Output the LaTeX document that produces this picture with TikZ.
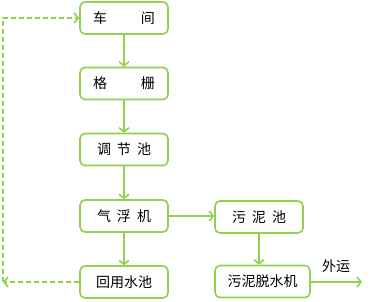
\documentclass[tikz,border=0pt]{standalone}
\usepackage{fontspec}
\newfontfamily\cjk{Noto Sans CJK SC}
\usetikzlibrary{arrows.meta}
\definecolor{leaf}{RGB}{146,208,80}
\tikzset{
  unit/.style={draw=leaf, line width=1.6pt, rounded corners=5pt, fill=white,
    minimum width=88pt, minimum height=32pt, inner sep=0pt,
    font=\cjk\fontsize{14}{16}\selectfont},
  flow/.style={draw=leaf, line width=1.6pt,
    -{Straight Barb[length=4pt,width=10pt,line width=1.6pt]}},
  back/.style={flow, dash pattern=on 5pt off 3pt}
}
\begin{document}
\begin{tikzpicture}[x=1pt, y=-1pt]
  \useasboundingbox (0,0) rectangle (371,301);

  % main line
  \node[unit] (shop) at (124,18) {车\hspace{34pt}间};
  \node[unit] (screen) at (124,83.5) {格\hspace{34pt}栅};
  \node[unit] (tank) at (124,149.5) {调\hspace{6pt}节\hspace{6pt}池};
  \node[unit] (float) at (124,216) {气\hspace{6pt}浮\hspace{6pt}机};
  \node[unit] (reuse) at (124,282) {回用水池};

  % sludge line
  \node[unit] (sludge) at (259,217) {污\hspace{6pt}泥\hspace{6pt}池};
  \node[unit, minimum width=95pt] (dewater) at (262.5,281.5) {污泥脱水机};
  \coordinate (out) at (362,282);
  \node[font=\cjk\fontsize{14}{16}\selectfont] (outlabel) at (336,266) {外运};

  % arrows
  \draw[flow] (shop) -- (screen);
  \draw[flow] (screen) -- (tank);
  \draw[flow] (tank) -- (float);
  \draw[flow] (float) -- (reuse);
  \draw[flow] (float.east) -- (float.east -| sludge.west);
  \draw[flow] (sludge.south) -- (sludge.south |- dewater.north);
  \draw[flow] (dewater.east |- out) -- (out);

  % return water, dashed
  \coordinate (turn) at (3,282);
  \draw[back] (reuse.west) -- (turn);
  \draw[back] (turn) -- (3,18) -- (shop.west);
\end{tikzpicture}
\end{document}
